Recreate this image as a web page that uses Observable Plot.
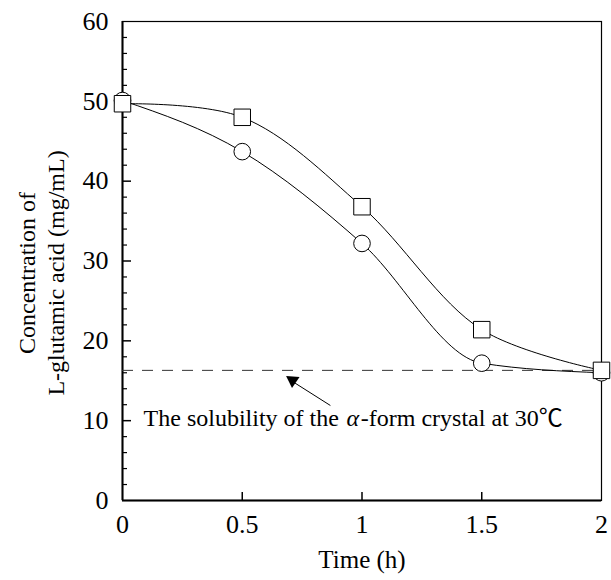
<!DOCTYPE html>
<html>
<head>
<meta charset="utf-8">
<script src="https://cdn.jsdelivr.net/npm/d3@7"></script>
<script src="https://cdn.jsdelivr.net/npm/@observablehq/plot@0.6"></script>
<style>
  body { margin: 0; background: #fff; }
  #chart svg { display: block; }
</style>
</head>
<body>
<div id="chart"></div>
<script>
// Data
const time = [0, 0.5, 1, 1.5, 2];
const squareSeries = [49.7, 48.0, 36.8, 21.4, 16.3];
const circleSeries = [50.1, 43.7, 32.2, 17.2, 16.0];
const solubility = 16.3;
const xTicks = [0, 0.5, 1, 1.5, 2];
const xTickLabels = ["0", "0.5", "1", "1.5", "2"];
const yTicks = [0, 10, 20, 30, 40, 50, 60];
const yMinorTicks = d3.range(0, 60, 2).filter(v => v % 10 !== 0);
const xLabel = "Time (h)";
const yLabel = "Concentration of\nL-glutamic acid (mg/mL)";
const notePart1 = "The solubility of the";
const noteAlpha = "α";
const notePart2 = "-form crystal at 30℃";

const circles = time.map((t, i) => ({t, c: circleSeries[i]}));
const squares = time.map((t, i) => ({t, c: squareSeries[i]}));

const W = 611, H = 580, mL = 122, mR = 10, mT = 21, mB = 80;
const pw = W - mL - mR, ph = H - mT - mB;
const font = "'Liberation Serif', 'Times New Roman', 'Noto Sans CJK JP', serif";

const chart = Plot.plot({
  width: W, height: H,
  marginLeft: mL, marginRight: mR, marginTop: mT, marginBottom: mB,
  style: {fontFamily: font, background: "#fff", color: "#000"},
  x: {domain: [0, 2]},
  y: {domain: [0, 60]},
  marks: [
    Plot.frame({stroke: "#000", strokeWidth: 1.2}),
    Plot.ruleX([0], {stroke: "#000", strokeWidth: 2}),
    Plot.ruleY([0], {stroke: "#000", strokeWidth: 2}),
    // inward ticks
    Plot.tickY(yTicks.slice(1, -1), {y: d => d, insetRight: pw - 9, stroke: "#000", strokeWidth: 1.5}),
    Plot.tickY(yMinorTicks, {y: d => d, insetRight: pw - 5, stroke: "#000", strokeWidth: 1.2}),
    Plot.tickX(xTicks.slice(1, -1), {x: d => d, insetTop: ph - 8, stroke: "#000", strokeWidth: 1.5}),
    Plot.axisY({ticks: yTicks, tickSize: 0, tickPadding: 14, fontSize: 26, label: null}),
    Plot.axisX({ticks: xTicks, tickSize: 0, tickPadding: 14, fontSize: 26, label: null,
                tickFormat: (d) => xTickLabels[xTicks.indexOf(d)]}),
    // solubility line
    Plot.ruleY([solubility], {stroke: "#333", strokeWidth: 1, strokeDasharray: "11,9"}),
    // curves
    Plot.line(squares, {x: "t", y: "c", curve: "catmull-rom", stroke: "#000", strokeWidth: 1}),
    Plot.line(circles, {x: "t", y: "c", curve: "monotone-x", stroke: "#000", strokeWidth: 1}),
    Plot.dot(circles, {x: "t", y: "c", r: 8.3, symbol: "circle", fill: "#fff", stroke: "#000", strokeWidth: 1}),
    Plot.dot(squares, {x: "t", y: "c", r: 9.3, symbol: "square", fill: "#fff", stroke: "#000", strokeWidth: 1}),
    // annotation arrow
    Plot.link([{x1: 0.868, y1: 11.9, x2: 0.705, y2: 15.0}], {x1: "x1", y1: "y1", x2: "x2", y2: "y2", stroke: "#000", strokeWidth: 1}),
    Plot.dot([{x: 0.71, y: 15.05}], {x: "x", y: "y", symbol: "triangle", r: 5, rotate: -56, fill: "#000", stroke: "none"}),
    // annotation text
    Plot.text([notePart1], {x: 0.088, y: 10.3, text: d => d, textAnchor: "start", fontSize: 24, lineAnchor: "middle"}),
    Plot.text([noteAlpha], {x: 0.935, y: 10.3, text: d => d, textAnchor: "start", fontSize: 24, fontStyle: "italic", lineAnchor: "middle"}),
    Plot.text([notePart2], {x: 0.995, y: 10.3, text: d => d, textAnchor: "start", fontSize: 24, lineAnchor: "middle"}),
    // axis titles
    Plot.text([xLabel], {frameAnchor: "bottom", dy: 67, text: d => d, fontSize: 25}),
    Plot.text([yLabel], {x: 0, y: 28.5, dx: -82, rotate: -90, text: d => d, fontSize: 24, lineHeight: 1.2})
  ]
});
document.getElementById("chart").appendChild(chart);
</script>
</body>
</html>
